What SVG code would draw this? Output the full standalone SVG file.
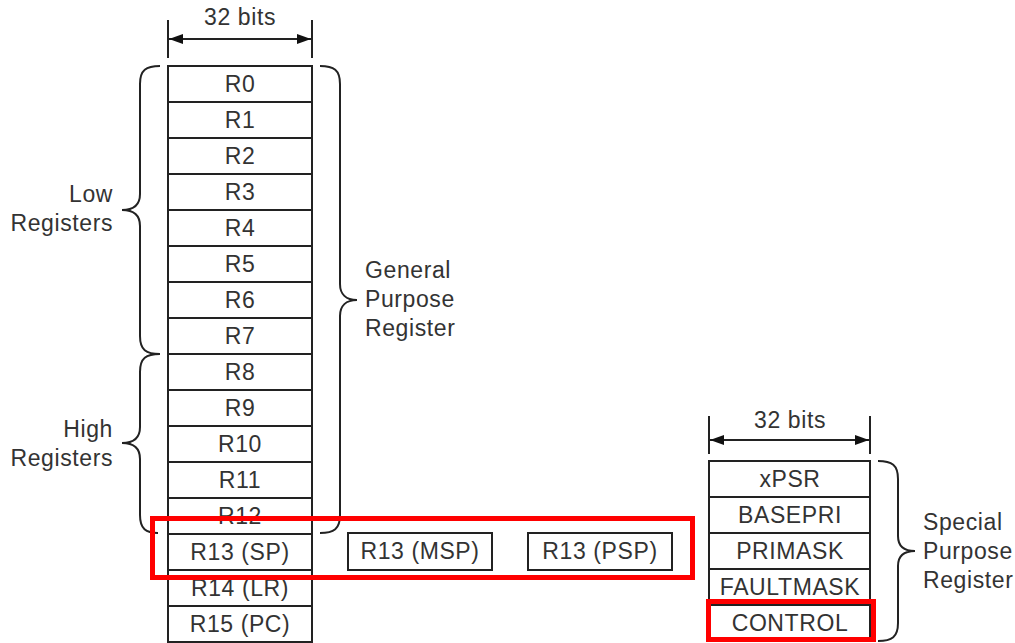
<svg xmlns="http://www.w3.org/2000/svg" width="1015" height="643" viewBox="0 0 1015 643">
<style>
text{font-family:"Liberation Sans",Arial,sans-serif;font-size:23px;letter-spacing:0.6px;fill:#333}
.c{text-anchor:middle}
.e{text-anchor:end}
.cell{fill:#fff;stroke:#222;stroke-width:2}
.ln{fill:none;stroke:#222;stroke-width:2}
.br{fill:none;stroke:#222;stroke-width:2}
.red{fill:none;stroke:#f00;stroke-width:5}
</style>
<defs>
<marker id="ah" markerWidth="14" markerHeight="10" refX="14" refY="5" orient="auto-start-reverse" markerUnits="userSpaceOnUse">
<path d="M0,0 L14,5 L0,10 Z" fill="#111"/>
</marker>
</defs>
<rect width="1015" height="643" fill="#fff"/>
<g id="dim-left">
<line class="ln" x1="168" y1="20" x2="168" y2="58"/>
<line class="ln" x1="312" y1="20" x2="312" y2="58"/>
<line class="ln" x1="169" y1="39" x2="311" y2="39" marker-start="url(#ah)" marker-end="url(#ah)"/>
<text class="c" x="240" y="25">32 bits</text>
</g>
<g id="general-registers">
<g id="r0"><rect class="cell" x="168" y="66" width="144" height="36"/><text class="c" x="240" y="92">R0</text></g>
<g id="r1"><rect class="cell" x="168" y="102" width="144" height="36"/><text class="c" x="240" y="128">R1</text></g>
<g id="r2"><rect class="cell" x="168" y="138" width="144" height="36"/><text class="c" x="240" y="164">R2</text></g>
<g id="r3"><rect class="cell" x="168" y="174" width="144" height="36"/><text class="c" x="240" y="200">R3</text></g>
<g id="r4"><rect class="cell" x="168" y="210" width="144" height="36"/><text class="c" x="240" y="236">R4</text></g>
<g id="r5"><rect class="cell" x="168" y="246" width="144" height="36"/><text class="c" x="240" y="272">R5</text></g>
<g id="r6"><rect class="cell" x="168" y="282" width="144" height="36"/><text class="c" x="240" y="308">R6</text></g>
<g id="r7"><rect class="cell" x="168" y="318" width="144" height="36"/><text class="c" x="240" y="344">R7</text></g>
<g id="r8"><rect class="cell" x="168" y="354" width="144" height="36"/><text class="c" x="240" y="380">R8</text></g>
<g id="r9"><rect class="cell" x="168" y="390" width="144" height="36"/><text class="c" x="240" y="416">R9</text></g>
<g id="r10"><rect class="cell" x="168" y="426" width="144" height="36"/><text class="c" x="240" y="452">R10</text></g>
<g id="r11"><rect class="cell" x="168" y="462" width="144" height="36"/><text class="c" x="240" y="488">R11</text></g>
<g id="r12"><rect class="cell" x="168" y="498" width="144" height="36"/><text class="c" x="240" y="524">R12</text></g>
<g id="r13"><rect class="cell" x="168" y="534" width="144" height="36"/><text class="c" x="240" y="560">R13 (SP)</text></g>
<g id="r14"><rect class="cell" x="168" y="570" width="144" height="36"/><text class="c" x="240" y="596">R14 (LR)</text></g>
<g id="r15"><rect class="cell" x="168" y="606" width="144" height="36"/><text class="c" x="240" y="632">R15 (PC)</text></g>
</g>
<g id="msp"><rect class="cell" x="348" y="533" width="144" height="37"/><text class="c" x="420" y="559">R13 (MSP)</text></g>
<g id="psp"><rect class="cell" x="528" y="533" width="144" height="37"/><text class="c" x="600" y="559">R13 (PSP)</text></g>
<g id="low-brace">
<path class="br" d="M160,66 C146,66 140,70 140,84 L140,194 C140,204 134,210 122,210 C134,210 140,216 140,226 L140,336 C140,350 146,354 160,354"/>
<text class="e" x="113" y="202">Low</text>
<text class="e" x="113" y="231">Registers</text>
</g>
<g id="high-brace">
<path class="br" d="M160,354 C146,354 140,358 140,372 L140,427 C140,437 134,443 122,443 C134,443 140,449 140,459 L140,515 C140,529 146,533 158,533"/>
<text class="e" x="113" y="437">High</text>
<text class="e" x="113" y="466">Registers</text>
</g>
<g id="general-brace">
<path class="br" d="M320,66 C334,66 340,70 340,84 L340,284 C340,294 346,300 357,300 C346,300 340,306 340,316 L340,515 C340,529 334,533 320,533"/>
<text x="365" y="278">General</text>
<text x="365" y="307">Purpose</text>
<text x="365" y="336">Register</text>
</g>
<g id="dim-right">
<line class="ln" x1="709" y1="416" x2="709" y2="454"/>
<line class="ln" x1="870" y1="416" x2="870" y2="454"/>
<line class="ln" x1="710" y1="440" x2="869" y2="440" marker-start="url(#ah)" marker-end="url(#ah)"/>
<text class="c" x="790" y="428">32 bits</text>
</g>
<g id="special-registers">
<g id="xpsr"><rect class="cell" x="709" y="461" width="161" height="36"/><text class="c" x="790" y="487">xPSR</text></g>
<g id="basepri"><rect class="cell" x="709" y="497" width="161" height="36"/><text class="c" x="790" y="523">BASEPRI</text></g>
<g id="primask"><rect class="cell" x="709" y="533" width="161" height="36"/><text class="c" x="790" y="559">PRIMASK</text></g>
<g id="faultmask"><rect class="cell" x="709" y="569" width="161" height="36"/><text class="c" x="790" y="595">FAULTMASK</text></g>
<g id="control"><rect class="cell" x="709" y="605" width="161" height="36"/><text class="c" x="790" y="631">CONTROL</text></g>
</g>
<g id="special-brace">
<path class="br" d="M878,461 C892,461 898,465 898,479 L898,536 C898,546 904,551 915,551 C904,551 898,556 898,566 L898,623 C898,637 892,641 878,641"/>
<text x="923" y="530">Special</text>
<text x="923" y="559">Purpose</text>
<text x="923" y="588">Register</text>
</g>
<g id="highlights">
<rect class="red" x="152.5" y="518.5" width="540" height="59"/>
<rect class="red" x="708.5" y="601.5" width="165" height="38"/>
</g>
</svg>
